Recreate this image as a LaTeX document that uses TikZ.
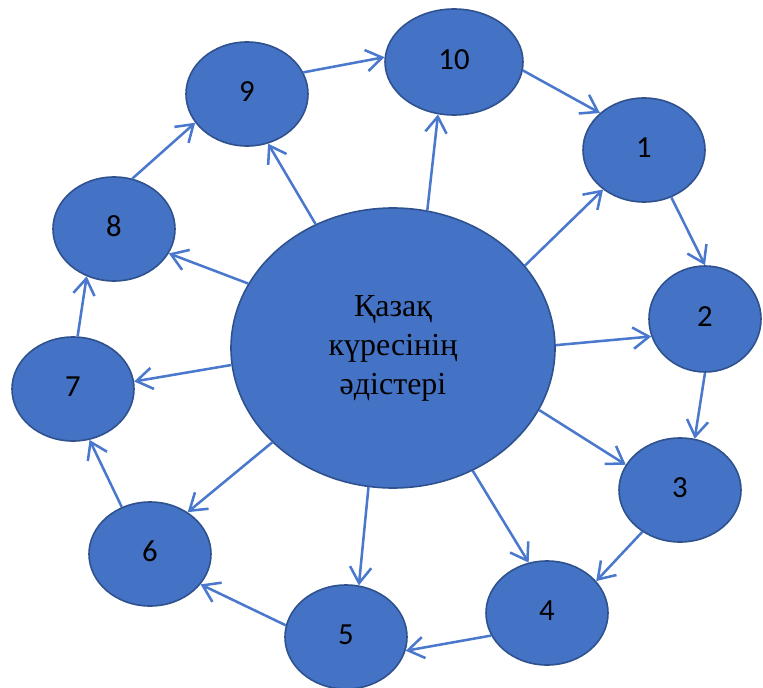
\documentclass[tikz,border=0pt]{standalone}
\usepackage{fontspec}
\setmainfont{Liberation Serif}
\newfontfamily\numfont{Carlito}
\usetikzlibrary{shapes.geometric,arrows.meta}
\definecolor{offblue}{HTML}{4472C4}
\definecolor{edgeblue}{HTML}{2F528F}
\definecolor{arrblue}{HTML}{4A78CC}
\begin{document}
\begin{tikzpicture}[x=0.75pt,y=-0.75pt,
  el/.style 2 args={ellipse, draw=edgeblue, fill=offblue, line width=1.2pt, inner sep=0pt,
    minimum width=#1*1.5pt, minimum height=#2*1.5pt},
  numtext/.style={font=\numfont\fontsize{23pt}{27pt}\selectfont, text depth=4pt},
  arr/.style={draw=arrblue, line width=1.9pt,
    -{Straight Barb[length=12pt,width=16pt,line width=1.9pt]}}]
\useasboundingbox (0,0) rectangle (763,688);
\node[el={162}{140}, align=center, font=\fontsize{24pt}{29.3pt}\selectfont] (c) at (393,348) {Қазақ\\күресінің\\әдістері};
\node[el={69}{53}, numtext] (n10) at (454,62) {10};
\node[el={61}{52}, numtext] (n9) at (247,94) {9};
\node[el={61}{52}, numtext] (n1) at (644,150) {1};
\node[el={56}{53}, numtext] (n2) at (705,319) {2};
\node[el={61}{52}, numtext] (n8) at (114,229) {8};
\node[el={61}{52}, numtext] (n7) at (73,389) {7};
\node[el={61}{52}, numtext] (n6) at (150,554) {6};
\node[el={61}{52}, numtext] (n5) at (346,637) {5};
\node[el={61}{52}, numtext] (n4) at (547,613) {4};
\node[el={61}{52}, numtext] (n3) at (680,490) {3};
% ring
\draw[arr] (n9.21) -- (n10.176);
\draw[arr] (n10.-7) -- (n1.140);
\draw[arr] (n1.-60) -- (n2.90);
\draw[arr] (n2.-90) -- (n3.74);
\draw[arr] (n3.228) -- (n4.33);
\draw[arr] (n4.202) -- (n5.347);
\draw[arr] (n5.169) -- (n6.329);
\draw[arr] (n6.121) -- (n7.288);
\draw[arr] (n7.85) -- (n8.240);
\draw[arr] (n8.70) -- (n9.209);
% spokes
\draw[arr] (c.122) -- (n9.293);
\draw[arr] (c.76.5) -- (n10.253);
\draw[arr] (c.32) -- (n1.224);
\draw[arr] (c.1) -- (n2.198);
\draw[arr] (c.-23) -- (n3.155);
\draw[arr] (c.-57.4) -- (n4.110);
\draw[arr] (c.260) -- (n5.76);
\draw[arr] (c.218.5) -- (n6.48);
\draw[arr] (c.186.7) -- (n7.7);
\draw[arr] (c.156.5) -- (n8.336);
\end{tikzpicture}
\end{document}
